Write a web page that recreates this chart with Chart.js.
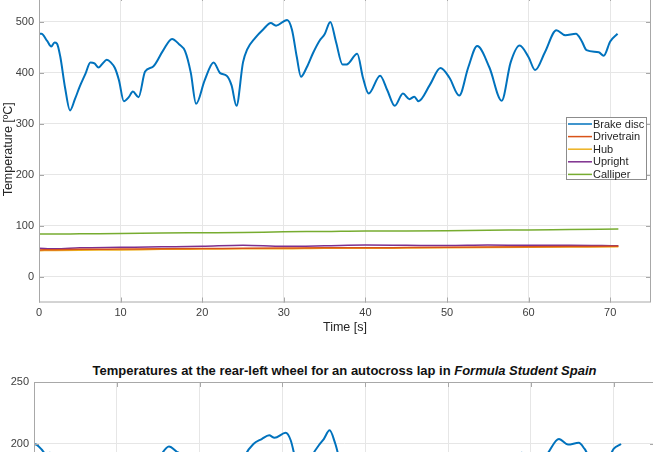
<!DOCTYPE html>
<html>
<head>
<meta charset="utf-8">
<script src="https://cdn.jsdelivr.net/npm/chart.js@4.4.1/dist/chart.umd.min.js"></script>
<style>
  html, body { margin: 0; padding: 0; background: #fff; overflow: hidden; }
  #wrap { position: relative; width: 653px; height: 452px; overflow: hidden; background: #fff; }
  #c1 { position: absolute; left: 0; top: -24px; }
  #c2 { position: absolute; left: 0; top: 350px; }
  #title2 {
    position: absolute; left: 34px; width: 621px; top: 363px; line-height: 16px;
    text-align: center; white-space: nowrap; color: #111;
    font: bold 13px "Liberation Sans", Arial, sans-serif;
  }
</style>
</head>
<body>
<div id="wrap">
  <canvas id="c1" width="653" height="370"></canvas>
  <div id="title2">Temperatures at the rear-left wheel for an autocross lap in <i>Formula Student Spain</i></div>
  <canvas id="c2" width="660" height="400"></canvas>
</div>
<script>
// time [s] for the brake disc traces
const time = [0, 0.3, 1.0, 1.5, 1.9, 2.2, 2.6, 3.2, 3.8, 4.4, 5.0, 5.7, 6.3, 6.8, 7.3, 7.8, 8.3, 8.8, 9.3, 9.8,
  10.4, 11.0, 11.5, 12.2, 13.0, 14.0, 15.2, 16.3, 17.2, 17.9, 18.6, 19.25, 20.3, 21.4, 22.2, 23.0, 23.6, 24.2,
  25.0, 25.5, 26.5, 27.5, 28.4, 29.05, 30.4, 31.0, 31.6, 32.1, 32.8, 33.6, 34.4, 35.0, 35.7, 36.4, 37.2, 37.7,
  39.0, 39.7, 40.4, 41.8, 42.7, 43.6, 44.6, 45.4, 46.0, 46.5, 47.9, 49.2, 50.3, 51.5, 52.6, 53.7, 55.2, 56.7,
  57.8, 58.9, 60.0, 60.8, 62.0, 63.4, 64.5, 65.8, 66.5, 67.1, 68.6, 69.2, 70.0, 70.9];

const brakeDisc = [476, 476, 462, 451, 459, 457, 432, 370, 326, 348, 373, 398, 420, 418, 410, 418, 425, 420, 409, 385,
  344, 352, 363, 352, 402, 412, 443, 466, 455, 442, 400, 339, 385, 420, 399, 394, 375, 335,
  420, 445, 468, 485, 497, 492, 503, 484, 430, 392, 410, 439, 463, 475, 499, 460, 416, 416,
  437, 390, 359, 394, 365, 335, 359, 348, 353, 344, 376, 409, 390, 355, 410, 452, 410, 345,
  420, 453, 430, 405, 440, 483, 473, 476, 462, 444, 440, 433, 461, 476];

// slower channels
const timeSlow = [0, 2, 5, 10, 15, 20, 25, 30, 35, 40, 45, 50, 55, 60, 65, 71];
const drivetrain = [53, 53.5, 54, 54.5, 55, 55.5, 56, 56.5, 57, 57, 57.5, 58, 58.5, 59, 59.5, 60];
const hub = [51.5, 52, 52.5, 53, 54, 54.5, 55, 55, 56, 56, 56.5, 57, 57.5, 58, 58.5, 59];
const upright = [56, 55, 57, 58, 59, 60, 62, 60, 61, 62.5, 62, 61.5, 62.5, 62, 62, 61];
const calliper = [84, 84, 84.5, 85, 86, 86.5, 87, 88.5, 89, 90, 90, 90.5, 91.5, 92, 93, 94];

// rear-left brake disc (second figure)
const brakeDiscRL = [200, 199.5, 195, 191, 193, 192, 184, 166, 152, 158, 166, 174, 181, 180, 178, 180, 182, 181, 177, 170,
  158, 161, 164, 161, 176, 179, 190, 198, 194, 190, 177, 158, 172, 183, 177, 175, 170, 157,
  183, 191, 200, 204, 207, 205, 209, 203, 187, 175, 181, 191, 199, 204, 211, 200, 183, 183,
  189, 175, 166, 176, 168, 158, 166, 162, 164, 161, 171, 181, 175, 164, 181, 192, 181, 162,
  185, 193, 188, 181, 192, 204, 199.5, 201, 196, 190, 189, 187, 196, 200];

const xTicks = [0, 10, 20, 30, 40, 50, 60, 70];
const yTicksTop = [0, 100, 200, 300, 400, 500];
const yTicksBottom = [0, 50, 100, 150, 200, 250];

const seriesNames = ['Brake disc', 'Drivetrain', 'Hub', 'Upright', 'Calliper'];
const seriesColors = ['#0072BD', '#D95319', '#EDB120', '#7E2F8E', '#77AC30'];

const FONT = '"Liberation Sans", Arial, sans-serif';
Chart.defaults.font.family = FONT;
Chart.defaults.font.size = 11;
Chart.defaults.color = '#404040';

const pts = (xs, ys) => xs.map((x, i) => ({ x: x, y: ys[i] }));

const lineDs = (label, color, xs, ys, w) => ({
  label: label, data: pts(xs, ys), borderColor: color, backgroundColor: color,
  borderWidth: w, pointRadius: 0, cubicInterpolationMode: 'monotone', fill: false
});

// matlab style box with inward ticks
const boxPlugin = {
  id: 'matlabBox',
  afterDraw(chart) {
    const { ctx, chartArea: a, scales } = chart;
    ctx.save();
    ctx.strokeStyle = '#a8a8a8';
    ctx.lineWidth = 1;
    ctx.strokeRect(a.left + 0.5, a.top + 0.5, a.right - a.left - 1, a.bottom - a.top - 1);
    ctx.beginPath();
    scales.x.ticks.forEach(t => {
      const px = Math.round(scales.x.getPixelForValue(t.value)) + 0.5;
      ctx.moveTo(px, a.bottom); ctx.lineTo(px, a.bottom - 5);
      ctx.moveTo(px, a.top); ctx.lineTo(px, a.top + 5);
    });
    scales.y.ticks.forEach(t => {
      const py = Math.round(scales.y.getPixelForValue(t.value)) + 0.5;
      ctx.moveTo(a.left, py); ctx.lineTo(a.left + 5, py);
      ctx.moveTo(a.right, py); ctx.lineTo(a.right - 5, py);
    });
    ctx.stroke();
    ctx.restore();
  }
};

const legendPlugin = {
  id: 'boxLegend',
  afterDraw(chart) {
    const { ctx, chartArea: a } = chart;
    const w = 80, h = 62;
    const x0 = a.right - 85, y0 = a.top + 121;
    ctx.save();
    ctx.fillStyle = '#fff';
    ctx.fillRect(x0, y0, w, h);
    ctx.strokeStyle = '#8c8c8c';
    ctx.lineWidth = 1;
    ctx.strokeRect(x0 + 0.5, y0 + 0.5, w, h);
    ctx.font = '11px ' + FONT;
    ctx.textBaseline = 'middle';
    chart.data.datasets.forEach((ds, i) => {
      const y = y0 + 7 + i * 12.6;
      ctx.strokeStyle = ds.borderColor;
      ctx.lineWidth = 1.5;
      ctx.beginPath(); ctx.moveTo(x0 + 2, y); ctx.lineTo(x0 + 26, y); ctx.stroke();
      ctx.fillStyle = '#262626';
      ctx.fillText(ds.label, x0 + 27, y + 0.5);
    });
    ctx.restore();
  }
};

const gridOpts = { color: '#e6e6e6', drawTicks: false };
const axisTitleFont = { size: 12.5 };

const topChart = new Chart(document.getElementById('c1'), {
  type: 'line',
  data: {
    datasets: [
      lineDs(seriesNames[0], seriesColors[0], time, brakeDisc, 2),
      lineDs(seriesNames[1], seriesColors[1], timeSlow, drivetrain, 1.5),
      lineDs(seriesNames[2], seriesColors[2], timeSlow, hub, 1.5),
      lineDs(seriesNames[3], seriesColors[3], timeSlow, upright, 1.5),
      lineDs(seriesNames[4], seriesColors[4], timeSlow, calliper, 1.5)
    ]
  },
  options: {
    responsive: false,
    animation: false,
    layout: { padding: { top: 20, right: 2, bottom: 3.5, left: 0 } },
    plugins: { legend: { display: false }, tooltip: { enabled: false } },
    scales: {
      x: {
        type: 'linear', min: 0, max: 75,
        afterBuildTicks: s => { s.ticks = xTicks.map(v => ({ value: v })); },
        afterFit: s => { s.height = 40; },
        grid: gridOpts, border: { display: false },
        ticks: { padding: 4, maxRotation: 0, autoSkip: false },
        title: { display: true, text: 'Time [s]', color: '#262626', font: axisTitleFont, padding: { top: 0, bottom: 7 } }
      },
      y: {
        type: 'linear', min: -50, max: 550,
        afterBuildTicks: s => { s.ticks = yTicksTop.map(v => ({ value: v })); },
        afterFit: s => { s.width = 39; },
        grid: gridOpts, border: { display: false },
        ticks: { padding: 5 },
        title: { display: true, text: 'Temperature [ºC]', color: '#262626', font: axisTitleFont, padding: { top: 1.5, bottom: 0 } }
      }
    }
  },
  plugins: [boxPlugin, legendPlugin]
});

const bottomChart = new Chart(document.getElementById('c2'), {
  type: 'line',
  data: {
    datasets: [lineDs(seriesNames[0], seriesColors[0], time, brakeDiscRL, 2)]
  },
  options: {
    responsive: false,
    animation: false,
    layout: { padding: { top: 32, right: 5, bottom: 0, left: 0 } },
    plugins: { legend: { display: false }, tooltip: { enabled: false } },
    scales: {
      x: {
        type: 'linear', min: 0, max: 75,
        afterBuildTicks: s => { s.ticks = xTicks.map(v => ({ value: v })); },
        afterFit: s => { s.height = 58; },
        grid: gridOpts, border: { display: false },
        ticks: { padding: 4, maxRotation: 0, autoSkip: false },
        title: { display: true, text: 'Time [s]', color: '#262626', font: axisTitleFont, padding: { top: 0, bottom: 8 } }
      },
      y: {
        type: 'linear', min: 0, max: 250,
        afterBuildTicks: s => { s.ticks = yTicksBottom.map(v => ({ value: v })); },
        afterFit: s => { s.width = 34; },
        grid: gridOpts, border: { display: false },
        ticks: { padding: 5 }
      }
    }
  },
  plugins: [boxPlugin]
});
</script>
</body>
</html>
